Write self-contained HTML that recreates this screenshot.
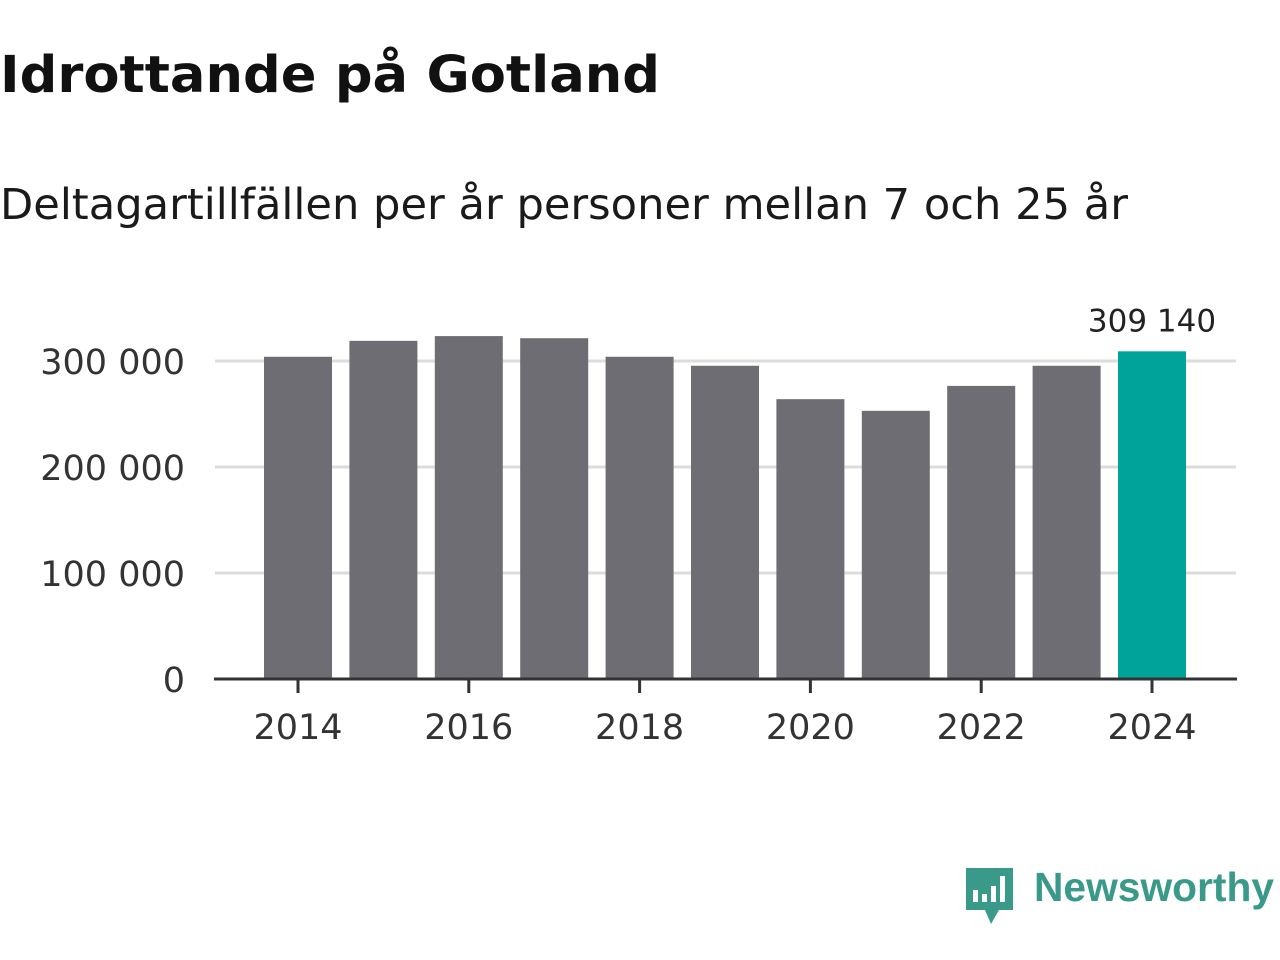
<!DOCTYPE html>
<html><head><meta charset="utf-8"><style>
body{margin:0;width:1280px;height:960px;background:#fff;font-family:"DejaVu Sans","Liberation Sans",sans-serif;overflow:hidden;position:relative}
.fit{position:absolute;white-space:nowrap;transform-origin:0 0;display:inline-block}
#title{left:0;top:46px;font-size:51px;font-weight:bold;color:#111}
#sub{left:0;top:180px;font-size:43px;color:#1a1a1a}
#logo{left:1034px;top:864px;font-size:41px;color:#3a9a8a;font-weight:bold;font-family:"Liberation Sans",sans-serif}
</style></head><body>
<div id="title" class="fit" data-w="660">Idrottande på Gotland</div>
<div id="sub" class="fit" data-w="1128">Deltagartillfällen per år personer mellan 7 och 25 år</div>
<svg id="chart" width="1280" height="960" style="position:absolute;left:0;top:0"></svg>
<svg width="60" height="62" style="position:absolute;left:963px;top:866px">
<path d="M3 2 H50 V44 H36 L28 58 L22 44 H3 Z" fill="#3a9a8a"/>
<rect x="10" y="24" width="5" height="12" fill="#fff"/><rect x="19" y="28" width="5" height="8" fill="#fff"/>
<rect x="28" y="20" width="5" height="16" fill="#fff"/><rect x="37" y="10" width="5" height="26" fill="#fff"/>
</svg>
<div id="logo" class="fit" data-w="240">Newsworthy</div>
<script>
const years=[2014,2015,2016,2017,2018,2019,2020,2021,2022,2023,2024];
const values=[304000,319000,323500,321500,304000,295500,264000,253000,276500,295500,309140];
const yTicks=[0,100000,200000,300000];
const yTickLabels=["0","100 000","200 000","300 000"];
const xTicks=[2014,2016,2018,2020,2022,2024];
const NS="http://www.w3.org/2000/svg";
const svg=document.getElementById('chart');
const y0=679,pxPer=318/300000;
const y=v=>y0-v*pxPer;
const x=yr=>298+(yr-2014)*85.4;
const FF='DejaVu Sans, Liberation Sans, sans-serif';
function mk(t,a){const e=document.createElementNS(NS,t);for(const k in a)e.setAttribute(k,a[k]);svg.appendChild(e);return e;}
yTicks.forEach((v,i)=>{
 if(v>0){const g=mk('line',{x1:215,x2:1236,y1:y(v),y2:y(v),stroke:'#dcdcdc','stroke-width':3});
 
 }
 const t=mk('text',{x:185,y:y(v)+13,'text-anchor':'end','font-size':35,fill:'#333','font-family':FF});
 t.textContent=yTickLabels[i];
 
 
});
years.forEach((yr,i)=>{
 const last=i===years.length-1;
 const r=mk('rect',{x:x(yr)-34,y:y(values[i]),width:68,height:y0-y(values[i]),fill:last?'#00a39a':'#6e6d74'});
 
 
 if(last){const t=mk('text',{x:x(yr),y:y(values[i])-20,'text-anchor':'middle','font-size':31,fill:'#222','font-family':FF});
 t.textContent=values[i].toLocaleString('sv-SE').replace(/\s/g,' ');
 
 }
});
const ax=mk('line',{x1:214,x2:1237,y1:y0,y2:y0,stroke:'#333','stroke-width':3});


xTicks.forEach(yr=>{
 const l=mk('line',{x1:x(yr),x2:x(yr),y1:y0,y2:y0+14,stroke:'#333','stroke-width':3});
 
 
 const t=mk('text',{x:x(yr),y:739,'text-anchor':'middle','font-size':35,fill:'#333','font-family':FF});
 t.textContent=yr;
 
 
});
document.querySelectorAll('.fit').forEach(el=>{
 const w=el.getBoundingClientRect().width;
 el.style.transform='scaleX('+(parseFloat(el.dataset.w)/w)+')';
});
</script>
</body></html>
